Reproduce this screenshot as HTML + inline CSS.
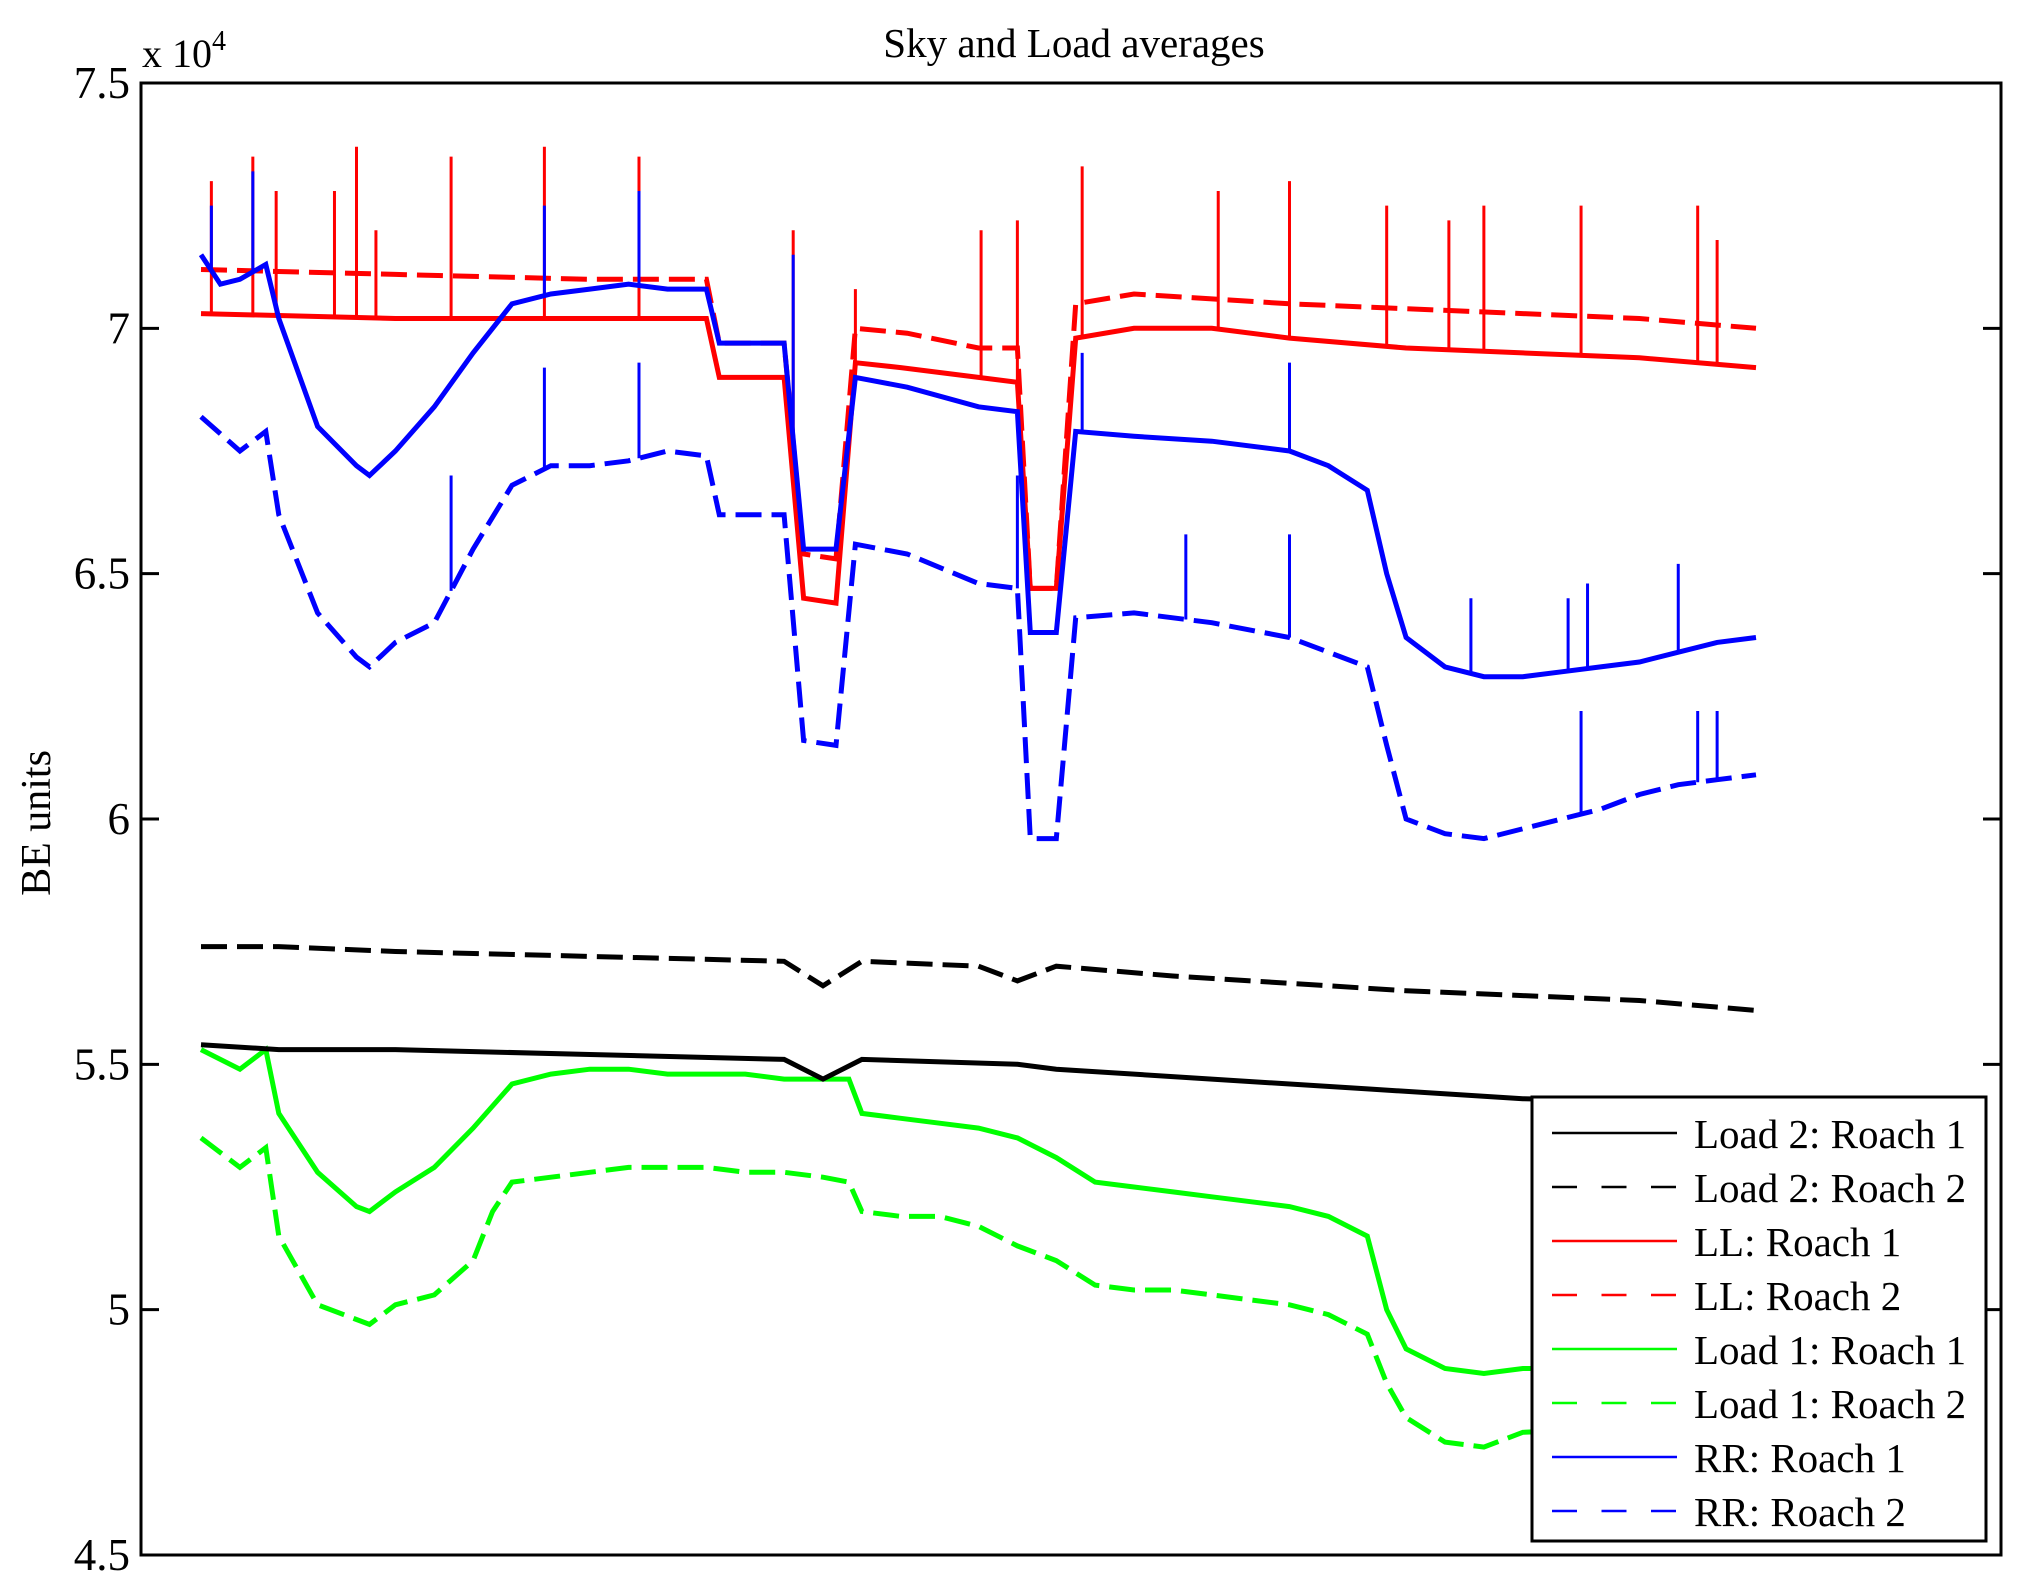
<!DOCTYPE html>
<html><head><meta charset="utf-8"><style>
body{margin:0;background:#fff;}
svg{display:block;font-family:"Liberation Serif",serif;}
</style></head><body>
<svg id="chart" width="2029" height="1592" viewBox="0 0 2029 1592">
<rect width="2029" height="1592" fill="#fff"/>
<g id="series"></g>
<rect x="141" y="83" width="1860" height="1472" fill="none" stroke="#000" stroke-width="3"/>
<g id="yaxis"></g>
<text x="1074" y="57" font-size="41" text-anchor="middle">Sky and Load averages</text>
<text x="142" y="67" font-size="40">x 10<tspan dy="-17" font-size="28">4</tspan></text>
<text transform="translate(50,823) rotate(-90)" font-size="42" text-anchor="middle">BE units</text>
<g id="legend"></g>
</svg>
<script>
const yTicks = [4.5, 5, 5.5, 6, 6.5, 7, 7.5];
const yTickLabels = ["4.5","5","5.5","6","6.5","7","7.5"];

const load2r1T = [0,60,150,300,450,480,510,630,660,780,900,1020,1200];
const load2r1V = [5.54,5.53,5.53,5.52,5.51,5.47,5.51,5.50,5.49,5.47,5.45,5.43,5.42];
const load2r2T = [0,60,150,300,450,480,510,600,630,660,750,870,930,1020,1110,1200];
const load2r2V = [5.74,5.74,5.73,5.72,5.71,5.66,5.71,5.70,5.67,5.70,5.68,5.66,5.65,5.64,5.63,5.61];

const llr1T = [0,150,300,390,400,450,465,490,505,540,600,630,640,660,675,720,780,840,930,1020,1110,1200];
const llr1V = [7.03,7.02,7.02,7.02,6.90,6.90,6.45,6.44,6.93,6.92,6.90,6.89,6.47,6.47,6.98,7.00,7.00,6.98,6.96,6.95,6.94,6.92];
const llr2T = [0,150,300,390,400,450,465,490,505,545,600,630,640,660,675,720,780,840,930,1020,1110,1200];
const llr2V = [7.12,7.11,7.10,7.10,6.97,6.97,6.54,6.53,7.00,6.99,6.96,6.96,6.47,6.47,7.05,7.07,7.06,7.05,7.04,7.03,7.02,7.00];

const l1r1T = [0,30,50,60,90,120,130,150,180,210,240,270,300,330,360,390,420,450,480,500,510,540,570,600,630,660,690,720,750,780,810,840,870,900,915,930,960,990,1020,1200];
const l1r1V = [5.53,5.49,5.53,5.40,5.28,5.21,5.20,5.24,5.29,5.37,5.46,5.48,5.49,5.49,5.48,5.48,5.48,5.47,5.47,5.47,5.40,5.39,5.38,5.37,5.35,5.31,5.26,5.25,5.24,5.23,5.22,5.21,5.19,5.15,5.00,4.92,4.88,4.87,4.88,4.88];
const l1r2T = [0,30,50,60,90,120,130,150,180,210,225,240,270,300,330,360,390,420,450,480,500,510,540,570,600,630,660,690,720,750,780,810,840,870,900,915,930,960,990,1020,1200];
const l1r2V = [5.35,5.29,5.33,5.15,5.01,4.98,4.97,5.01,5.03,5.10,5.20,5.26,5.27,5.28,5.29,5.29,5.29,5.28,5.28,5.27,5.26,5.20,5.19,5.19,5.17,5.13,5.10,5.05,5.04,5.04,5.03,5.02,5.01,4.99,4.95,4.85,4.78,4.73,4.72,4.75,4.77];

const rrr1T = [0,15,30,50,60,90,120,130,150,180,210,240,270,300,330,360,390,400,450,465,490,505,545,600,630,640,660,675,720,780,840,870,900,915,930,960,990,1020,1050,1080,1110,1140,1170,1200];
const rrr1V = [7.15,7.09,7.10,7.13,7.02,6.80,6.72,6.70,6.75,6.84,6.95,7.05,7.07,7.08,7.09,7.08,7.08,6.97,6.97,6.55,6.55,6.90,6.88,6.84,6.83,6.38,6.38,6.79,6.78,6.77,6.75,6.72,6.67,6.50,6.37,6.31,6.29,6.29,6.30,6.31,6.32,6.34,6.36,6.37];
const rrr2T = [0,30,50,60,90,120,130,150,180,210,240,270,300,330,360,390,400,450,465,490,505,545,600,630,640,660,675,720,780,840,900,915,930,960,990,1020,1050,1080,1110,1140,1170,1200];
const rrr2V = [6.82,6.75,6.79,6.62,6.42,6.33,6.31,6.36,6.40,6.55,6.68,6.72,6.72,6.73,6.75,6.74,6.62,6.62,6.16,6.15,6.56,6.54,6.48,6.47,5.96,5.96,6.41,6.42,6.40,6.37,6.31,6.15,6.00,5.97,5.96,5.98,6.00,6.02,6.05,6.07,6.08,6.09];

const llSpikeT = [8,40,58,103,120,135,193,265,338,457,505,602,630,680,785,840,915,963,990,1065,1155,1170];
const llSpikeV = [7.30,7.35,7.28,7.28,7.37,7.20,7.35,7.37,7.35,7.20,7.08,7.20,7.22,7.33,7.28,7.30,7.25,7.22,7.25,7.25,7.25,7.18];
const rrSpikeT = [8,40,265,338,457,680,840,980,1055,1070,1140];
const rrSpikeV = [7.25,7.32,7.25,7.28,7.15,6.95,6.93,6.45,6.45,6.48,6.52];
const rr2SpikeT = [193,265,338,630,760,840,1065,1155,1170];
const rr2SpikeV = [6.70,6.92,6.93,6.70,6.58,6.58,6.22,6.22,6.22];

const X0=201, X1=1756, T1=1200, TOP=83, H=1472;
function xs(t){return X0+t*(X1-X0)/T1;}
function ys(v){return TOP+(7.5-v)*H/3;}
function interp(T,V,t){for(let i=1;i<T.length;i++){if(t<=T[i]){const f=(t-T[i-1])/(T[i]-T[i-1]);return V[i-1]+f*(V[i]-V[i-1]);}}return V[V.length-1];}

const NS="http://www.w3.org/2000/svg";
const sg=document.getElementById('series');
function line(T,V,color,dashed,name){
  const p=document.createElementNS(NS,'path');
  let d='';
  for(let i=0;i<T.length;i++){d+=(i?'L':'M')+xs(T[i]).toFixed(1)+' '+ys(V[i]).toFixed(1);}
  p.setAttribute('d',d);p.setAttribute('fill','none');p.setAttribute('stroke',color);
  p.setAttribute('stroke-width','5');
  if(dashed)p.setAttribute('stroke-dasharray','26 10');
  
  
  sg.appendChild(p);
}
function spikes(T,V,ST,SV,color,name){
  for(let i=0;i<ST.length;i++){
    const l=document.createElementNS(NS,'line');
    const x=xs(ST[i]);
    l.setAttribute('x1',x);l.setAttribute('x2',x);
    l.setAttribute('y1',ys(interp(T,V,ST[i])));l.setAttribute('y2',ys(SV[i]));
    l.setAttribute('stroke',color);l.setAttribute('stroke-width','3');
    
    
    sg.appendChild(l);
  }
}
line(l1r2T,l1r2V,'#00ff00',true,'load1-roach2-line');
line(l1r1T,l1r1V,'#00ff00',false,'load1-roach1-line');
line(load2r2T,load2r2V,'#000',true,'load2-roach2-line');
line(load2r1T,load2r1V,'#000',false,'load2-roach1-line');
line(rrr2T,rrr2V,'#0000ff',true,'rr-roach2-line');
spikes(rrr2T,rrr2V,rr2SpikeT,rr2SpikeV,'#0000ff','rr-roach2-spike');
line(llr2T,llr2V,'#ff0000',true,'ll-roach2-line');
line(llr1T,llr1V,'#ff0000',false,'ll-roach1-line');
spikes(llr1T,llr1V,llSpikeT,llSpikeV,'#ff0000','ll-spike');
line(rrr1T,rrr1V,'#0000ff',false,'rr-roach1-line');
spikes(rrr1T,rrr1V,rrSpikeT,rrSpikeV,'#0000ff','rr-roach1-spike');

const ya=document.getElementById('yaxis');
for(let i=0;i<yTicks.length;i++){
  const y=ys(yTicks[i]);
  const t1=document.createElementNS(NS,'path');
  t1.setAttribute('d','M141 '+y+'H159M2001 '+y+'H1983');
  t1.setAttribute('stroke','#000');t1.setAttribute('stroke-width','3');
  
  
  ya.appendChild(t1);
  const tx=document.createElementNS(NS,'text');
  tx.setAttribute('x',130);tx.setAttribute('y',y+15);tx.setAttribute('font-size','45');
  tx.setAttribute('text-anchor','end');tx.textContent=yTickLabels[i];
  
  
  ya.appendChild(tx);
}

const legendLabels=["Load 2: Roach 1","Load 2: Roach 2","LL: Roach 1","LL: Roach 2","Load 1: Roach 1","Load 1: Roach 2","RR: Roach 1","RR: Roach 2"];
const legendColors=["#000","#000","#ff0000","#ff0000","#00ff00","#00ff00","#0000ff","#0000ff"];
const lg=document.getElementById('legend');
const box=document.createElementNS(NS,'rect');
box.setAttribute('x',1532);box.setAttribute('y',1097);box.setAttribute('width',454);box.setAttribute('height',444);
box.setAttribute('fill','#fff');box.setAttribute('stroke','#000');box.setAttribute('stroke-width','3');


lg.appendChild(box);
for(let i=0;i<legendLabels.length;i++){
  const y=1133+i*54;
  const l=document.createElementNS(NS,'line');
  l.setAttribute('x1',1552);l.setAttribute('x2',1677);l.setAttribute('y1',y);l.setAttribute('y2',y);
  l.setAttribute('stroke',legendColors[i]);l.setAttribute('stroke-width','2.5');
  if(i%2)l.setAttribute('stroke-dasharray','25 24.5');
  
  
  lg.appendChild(l);
  const t=document.createElementNS(NS,'text');
  t.setAttribute('x',1694);t.setAttribute('y',y+15);t.setAttribute('font-size','41');
  t.textContent=legendLabels[i];
  
  
  lg.appendChild(t);
}
</script>
</body></html>
